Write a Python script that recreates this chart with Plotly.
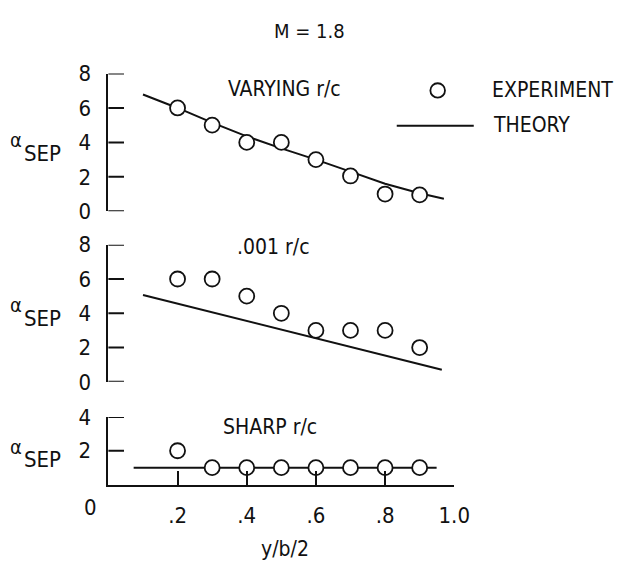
import plotly.graph_objects as go

# Spanwise stations (y/b/2) of the test points
stations = [0.2, 0.3, 0.4, 0.5, 0.6, 0.7, 0.8, 0.9]

# Separation angle, experiment
exp_varying = [6.0, 5.0, 4.0, 4.0, 3.0, 2.05, 1.0, 0.95]
exp_001 = [6.0, 6.0, 5.0, 4.0, 3.0, 3.0, 3.0, 2.0]
exp_sharp = [2.0, 1.0, 1.0, 1.0, 1.0, 1.0, 1.0, 1.0]

# Separation angle, theory
theory_varying_x = [0.10, 0.20, 0.30, 0.40, 0.50, 0.60, 0.70, 0.80, 0.90, 0.97]
theory_varying_y = [6.78, 6.0, 5.15, 4.35, 3.65, 3.0, 2.3, 1.6, 1.05, 0.73]
theory_001_x = [0.10, 0.964]
theory_001_y = [5.07, 0.70]
theory_sharp_x = [0.073, 0.949]
theory_sharp_y = [1.0, 1.0]

# Axis ticks
x_tickvals = [0.2, 0.4, 0.6, 0.8, 1.0]
x_ticktext = [".2", ".4", ".6", ".8", "1.0"]
y_ticks_full = [0, 2, 4, 6, 8]
y_ticks_sharp = [2, 4]

W, H = 635, 576
FONT = "Liberation Sans Narrow, DejaVu Sans Condensed, Roboto Condensed, Arial Narrow, sans-serif"
INK = "#111111"
Y_TICK_LEN = 16


def px(x):
    return x / W


def py(y):
    return 1 - y / H


fig = go.Figure()

marker = dict(symbol="circle", size=15, color="white", line=dict(color=INK, width=1.8))
line = dict(color=INK, width=2)

panels = [
    ("x2", "y", theory_varying_x, theory_varying_y, exp_varying),
    ("x3", "y2", theory_001_x, theory_001_y, exp_001),
    ("x", "y3", theory_sharp_x, theory_sharp_y, exp_sharp),
]
for xa, ya, tx, ty, ey in panels:
    fig.add_trace(go.Scatter(x=tx, y=ty, mode="lines", line=line, xaxis=xa, yaxis=ya,
                             showlegend=False, cliponaxis=False))
    fig.add_trace(go.Scatter(x=stations, y=ey, mode="markers", marker=marker, xaxis=xa, yaxis=ya,
                             showlegend=False, cliponaxis=False))

AXIS_X = 111.2
x_domain = [px(AXIS_X), px(466.0)]

yaxis_common = dict(
    showline=True, linewidth=2, linecolor=INK, ticks="", showgrid=False, zeroline=False,
    ticklabelstandoff=11, tickfont=dict(family=FONT, size=22, color=INK),
)
hidden_x = dict(range=[0, 1], showline=False, ticks="", showticklabels=False,
                showgrid=False, zeroline=False)

fig.update_layout(
    width=W, height=H,
    margin=dict(l=0, r=0, t=0, b=0),
    paper_bgcolor="white", plot_bgcolor="rgba(0,0,0,0)",
    font=dict(family=FONT, color=INK),
    showlegend=False,
    xaxis=dict(domain=x_domain, anchor="y3", range=[0, 1], showline=True, linewidth=2,
               linecolor=INK, ticks="inside", ticklen=14, tickwidth=2, tickcolor=INK,
               tickvals=x_tickvals, ticktext=x_ticktext, showgrid=False, zeroline=False,
               ticklabelstandoff=10, tickfont=dict(family=FONT, size=22, color=INK)),
    xaxis2=dict(domain=x_domain, anchor="y", **hidden_x),
    xaxis3=dict(domain=x_domain, anchor="y2", **hidden_x),
    yaxis=dict(domain=[py(208.3), py(64.3)], anchor="x2", range=[0, 8], tickvals=y_ticks_full,
               **yaxis_common),
    yaxis2=dict(domain=[py(386.6), py(243.3)], anchor="x3", range=[0, 8], tickvals=y_ticks_full,
                **yaxis_common),
    yaxis3=dict(domain=[py(494.0), py(423.3)], anchor="x", range=[0, 4], tickvals=y_ticks_sharp,
                **yaxis_common),
)

# tick marks pointing into each panel from its left spine
for yref, vals in [("y", y_ticks_full), ("y2", y_ticks_full), ("y3", y_ticks_sharp)]:
    for v in vals:
        fig.add_shape(type="line", xref="paper", yref=yref, layer="above",
                      x0=px(AXIS_X), x1=px(AXIS_X + Y_TICK_LEN), y0=v, y1=v,
                      line=dict(color=INK, width=2))


def label(text, x, y, size=21, xanchor="center"):
    fig.add_annotation(text=text, x=px(x), y=py(y), xref="paper", yref="paper",
                       xanchor=xanchor, yanchor="middle", showarrow=False,
                       font=dict(family=FONT, size=size, color=INK))


label("M = 1.8", 317, 20, size=20)
label("VARYING r/c", 292, 81)
label(".001 r/c", 281, 246)
label("SHARP r/c", 277, 434)
label("0", 92.5, 518, size=22)
label("y/b/2", 292, 561)

# y-axis titles: alpha with SEP subscript
for ya, ys in [(134, 148), (306, 320), (455, 468)]:
    label("α", 16, ya, size=20)
    label("SEP", 23, ys, size=22, xanchor="left")

# legend keys
fig.add_shape(type="circle", xref="paper", yref="paper",
              x0=px(449 - 7.5), x1=px(449 + 7.5), y0=py(82 + 7.5), y1=py(82 - 7.5),
              line=dict(color=INK, width=1.8), fillcolor="white")
fig.add_shape(type="line", xref="paper", yref="paper",
              x0=px(407), x1=px(486), y0=py(119), y1=py(119), line=dict(color=INK, width=2))
label("EXPERIMENT", 503, 82, xanchor="left")
label("THEORY", 504, 118, xanchor="left")

fig.write_html("out.html")
